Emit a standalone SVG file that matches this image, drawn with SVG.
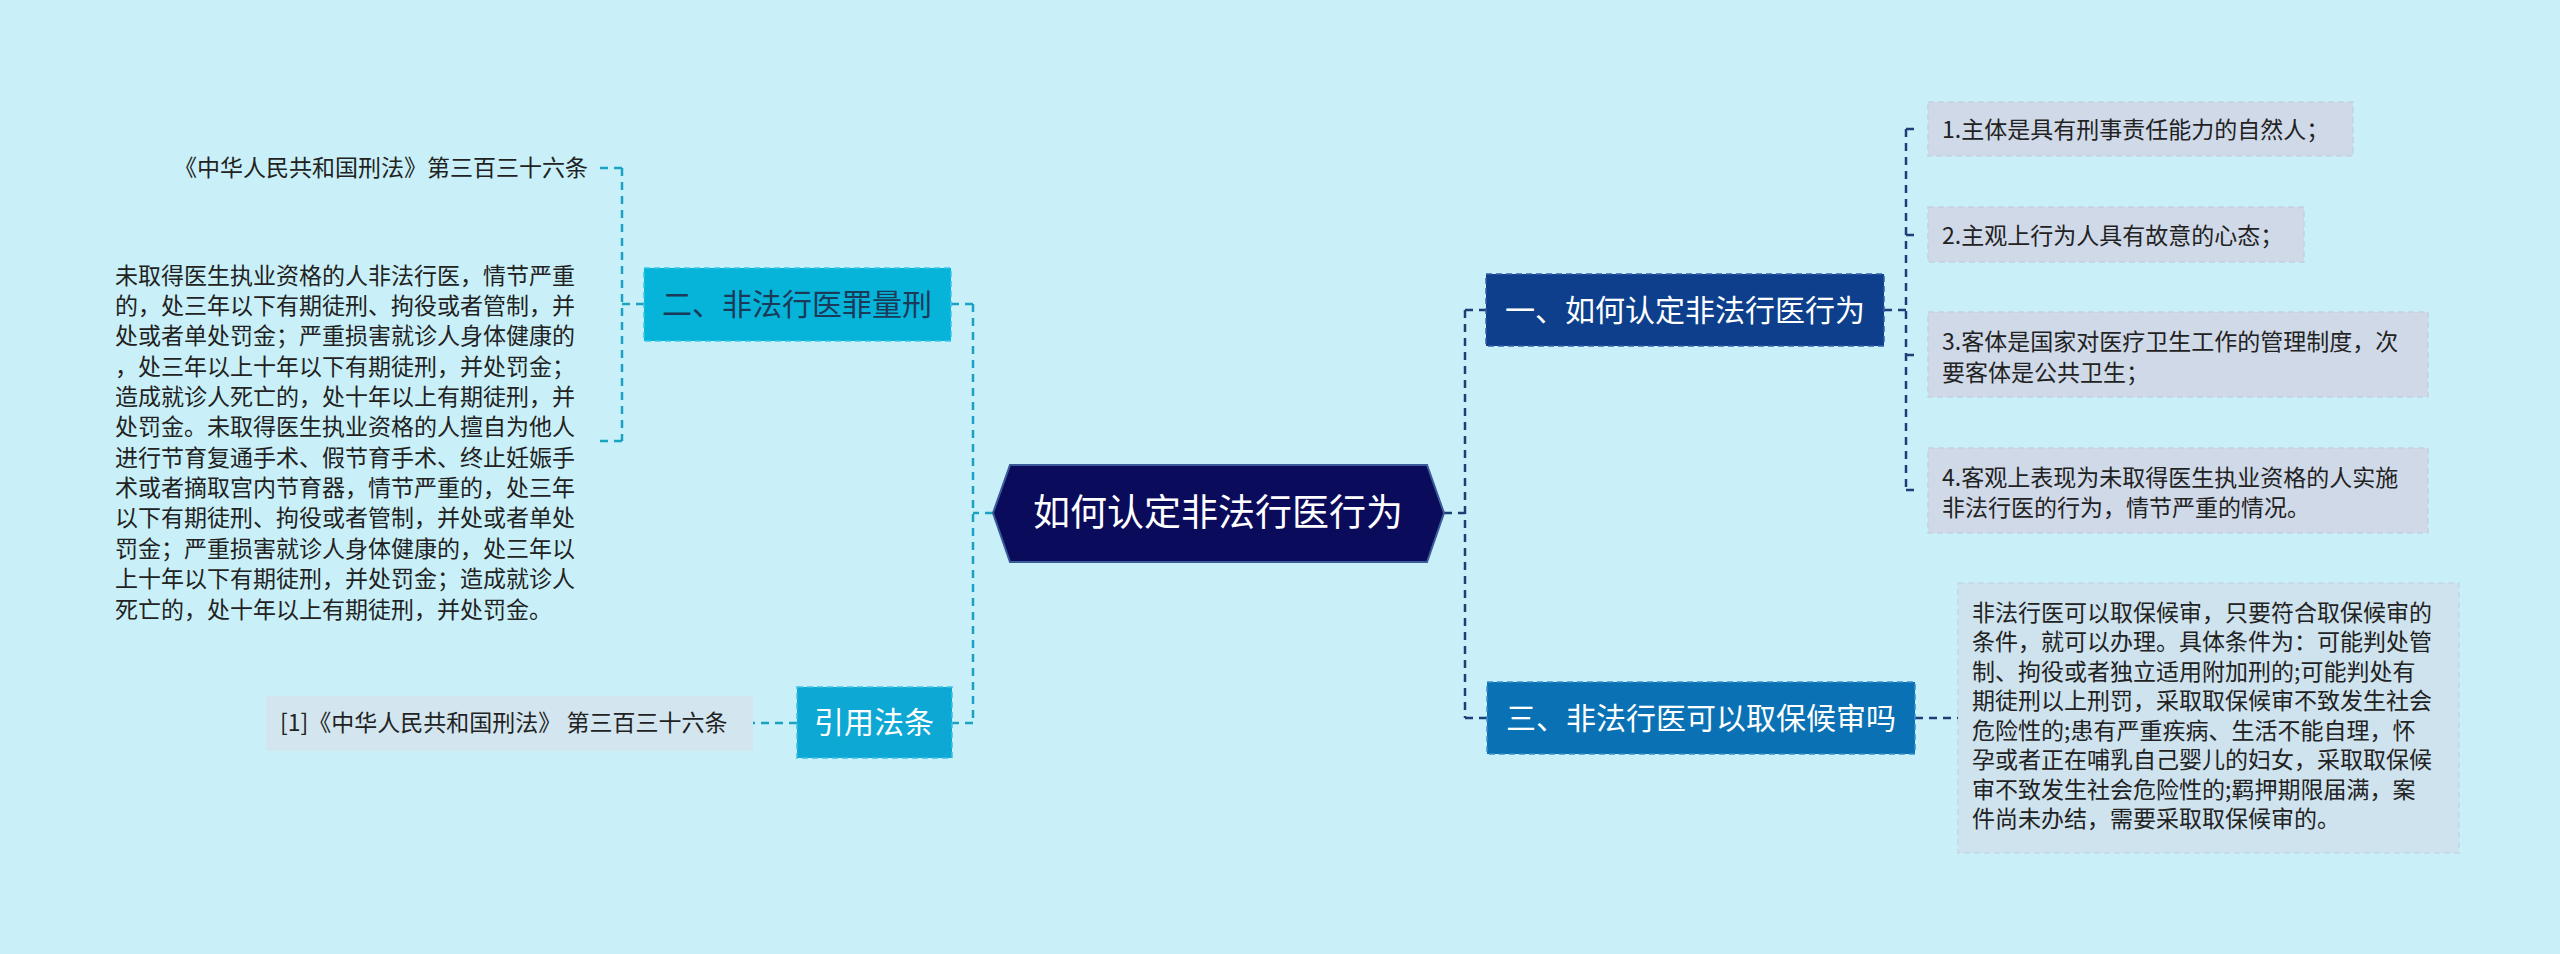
<svg xmlns="http://www.w3.org/2000/svg" width="2560" height="954" viewBox="0 0 2560 954">
<style>
text{font-family:"Noto Sans CJK SC","Liberation Sans",sans-serif;}
.t{font-size:23px;fill:#222;}
.n{font-size:30px;}
.cl{fill:none;stroke:#1ba2c2;stroke-width:2.5;stroke-dasharray:8,6;}
.cr{fill:none;stroke:#1d3f78;stroke-width:2.5;stroke-dasharray:8,6;}
.leaf{fill:#d0d9e8;stroke:#c4cfe0;stroke-width:1.5;stroke-dasharray:6,4;}
</style>
<rect width="2560" height="954" fill="#c9f0f8"/>
<g id="connectors">
<path class="cl" d="M993,513 H973 M973,304 V723 M973,304 H951 M973,723 H952"/>
<path class="cl" d="M644,304 H622 M622,168 V441 M622,168 H600 M622,441 H600"/>
<path class="cl" d="M797,723 H753"/>
<path class="cr" d="M1444,513 H1465 M1465,310 V718 M1465,310 H1486 M1465,718 H1487"/>
<path class="cr" d="M1884,310 H1906 M1906,129 V490 M1906,129 H1918 M1906,235 H1918 M1906,355 H1918 M1906,490 H1918"/>
<path class="cr" d="M1915,718 H1958"/>
</g>
<g id="center">
<polygon points="993,513 1010,465 1427,465 1444,513 1427,562 1010,562" fill="#0b0b5c" stroke="#3a5a9a" stroke-width="2"/>
<text x="1218" y="526" font-size="37" fill="#fff" text-anchor="middle">如何认定非法行医行为</text>
</g>
<g id="n2">
<rect x="644" y="268" width="307" height="73" fill="#07b4d9" stroke="#3ac6e6" stroke-width="1.5" stroke-dasharray="6,4"/>
<text x="797" y="315" class="n" fill="#1a3a5a" text-anchor="middle">二、非法行医罪量刑</text>
</g>
<g id="n2a">
<text x="588" y="176" class="t" text-anchor="end">《中华人民共和国刑法》第三百三十六条</text>
</g>
<g id="n2b">
<text class="t" x="115">
<tspan x="115" y="284">未取得医生执业资格的人非法行医，情节严重</tspan>
<tspan x="115" y="314">的，处三年以下有期徒刑、拘役或者管制，并</tspan>
<tspan x="115" y="344">处或者单处罚金；严重损害就诊人身体健康的</tspan>
<tspan x="115" y="375">，处三年以上十年以下有期徒刑，并处罚金；</tspan>
<tspan x="115" y="405">造成就诊人死亡的，处十年以上有期徒刑，并</tspan>
<tspan x="115" y="435">处罚金。未取得医生执业资格的人擅自为他人</tspan>
<tspan x="115" y="466">进行节育复通手术、假节育手术、终止妊娠手</tspan>
<tspan x="115" y="496">术或者摘取宫内节育器，情节严重的，处三年</tspan>
<tspan x="115" y="526">以下有期徒刑、拘役或者管制，并处或者单处</tspan>
<tspan x="115" y="557">罚金；严重损害就诊人身体健康的，处三年以</tspan>
<tspan x="115" y="587">上十年以下有期徒刑，并处罚金；造成就诊人</tspan>
<tspan x="115" y="618">死亡的，处十年以上有期徒刑，并处罚金。</tspan>
</text>
</g>
<g id="n3">
<rect x="797" y="687" width="155" height="71" fill="#0ea8d4" stroke="#3ac0e6" stroke-width="1.5" stroke-dasharray="6,4"/>
<text x="874" y="733" class="n" fill="#fff" text-anchor="middle">引用法条</text>
</g>
<g id="n3a">
<rect x="266" y="696" width="487" height="55" fill="#d3e6ef"/>
<text x="280" y="731" class="t">[1]《中华人民共和国刑法》 第三百三十六条</text>
</g>
<g id="n1">
<rect x="1486" y="274" width="398" height="72" fill="#0d3f8c" stroke="#3560a8" stroke-width="1.5" stroke-dasharray="6,4"/>
<text x="1685" y="321" class="n" fill="#fff" text-anchor="middle">一、如何认定非法行医行为</text>
</g>
<g id="l1"><rect class="leaf" x="1928" y="102" width="425" height="54"/><text class="t" x="1942" y="138">1.主体是具有刑事责任能力的自然人；</text></g>
<g id="l2"><rect class="leaf" x="1928" y="207" width="376" height="55"/><text class="t" x="1942" y="244">2.主观上行为人具有故意的心态；</text></g>
<g id="l3"><rect class="leaf" x="1928" y="312" width="500" height="85"/><text class="t"><tspan x="1942" y="350">3.客体是国家对医疗卫生工作的管理制度，次</tspan><tspan x="1942" y="381">要客体是公共卫生；</tspan></text></g>
<g id="l4"><rect class="leaf" x="1928" y="448" width="500" height="85"/><text class="t"><tspan x="1942" y="486">4.客观上表现为未取得医生执业资格的人实施</tspan><tspan x="1942" y="516">非法行医的行为，情节严重的情况。</tspan></text></g>
<g id="nthree">
<rect x="1487" y="682" width="428" height="72" fill="#0a72b4" stroke="#3a90cc" stroke-width="1.5" stroke-dasharray="6,4"/>
<text x="1701" y="729" class="n" fill="#fff" text-anchor="middle">三、非法行医可以取保候审吗</text>
</g>
<g id="nthree-a">
<rect x="1958" y="583" width="501" height="270" fill="#cfe3ee" stroke="#c2d8e6" stroke-width="1.5" stroke-dasharray="6,4"/>
<text class="t">
<tspan x="1972" y="621">非法行医可以取保候审，只要符合取保候审的</tspan>
<tspan x="1972" y="650">条件，就可以办理。具体条件为：可能判处管</tspan>
<tspan x="1972" y="680">制、拘役或者独立适用附加刑的;可能判处有</tspan>
<tspan x="1972" y="709">期徒刑以上刑罚，采取取保候审不致发生社会</tspan>
<tspan x="1972" y="739">危险性的;患有严重疾病、生活不能自理，怀</tspan>
<tspan x="1972" y="768">孕或者正在哺乳自己婴儿的妇女，采取取保候</tspan>
<tspan x="1972" y="798">审不致发生社会危险性的;羁押期限届满，案</tspan>
<tspan x="1972" y="827">件尚未办结，需要采取取保候审的。</tspan>
</text>
</g>
</svg>
